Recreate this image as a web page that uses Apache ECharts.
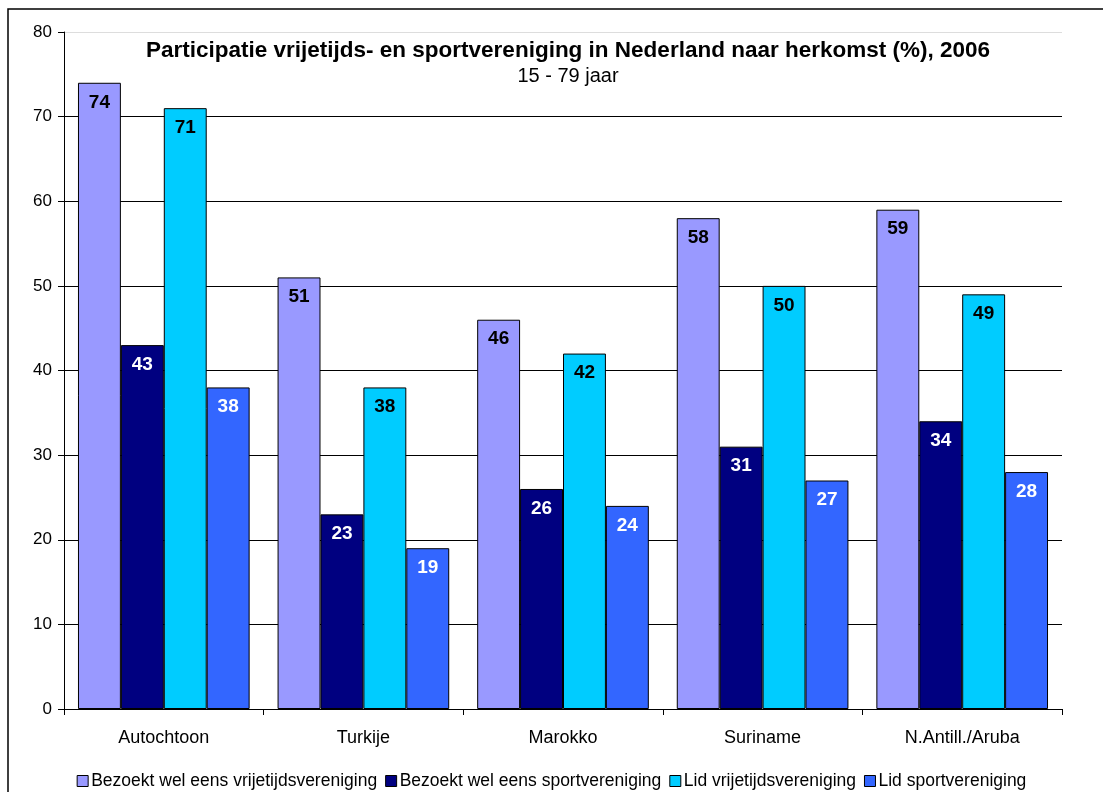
<!DOCTYPE html>
<html>
<head>
<meta charset="utf-8">
<script src="https://cdn.jsdelivr.net/npm/echarts@6/dist/echarts.min.js"></script>
<style>
  html, body { margin: 0; padding: 0; background: #fff; }
  #chart { width: 1103px; height: 792px; }
</style>
</head>
<body>
<div id="chart"></div>
<script>
var categories = ['Autochtoon', 'Turkije', 'Marokko', 'Suriname', 'N.Antill./Aruba']
var seriesNames = [
  'Bezoekt wel eens vrijetijdsvereniging',
  'Bezoekt wel eens sportvereniging',
  'Lid vrijetijdsvereniging',
  'Lid sportvereniging'
]
var bezoektVrijetijd = [74, 51, 46, 58, 59]
var bezoektSport = [43, 23, 26, 31, 34]
var lidVrijetijd = [71, 38, 42, 50, 49]
var lidSport = [38, 19, 24, 27, 28]

var colors = ['#9999FF', '#000080', '#00CCFF', '#3366FF']
var labelColors = ['#000', '#fff', '#000', '#fff']
var allData = [bezoektVrijetijd, bezoektSport, lidVrijetijd, lidSport]

var font = 'Liberation Sans, Arial, sans-serif'

var chart = echarts.init(document.getElementById('chart'), null, { renderer: 'canvas' })

var series = allData.map(function(d, i) {
  return {
    type: 'bar',
    name: seriesNames[i],
    data: d,
    barGap: '0%',
    barCategoryGap: '14%',
    itemStyle: { color: colors[i], borderColor: '#000', borderWidth: 1 },
    label: {
      show: true,
      position: 'insideTop',
      distance: 10,
      color: labelColors[i],
      fontFamily: font,
      fontWeight: 'bold',
      fontSize: 19
    }
  }
})

var option = {
  animation: false,
  color: colors,
  title: {
    text: 'Participatie vrijetijds- en sportvereniging in Nederland naar herkomst (%), 2006',
    subtext: '15 - 79 jaar',
    left: 563,
    textAlign: 'center',
    top: 34,
    itemGap: 4,
    textStyle: { fontFamily: font, fontWeight: 'bold', fontSize: 22.5, color: '#000' },
    subtextStyle: { fontFamily: font, fontSize: 20, color: '#000' }
  },
  legend: {
    top: 767,
    left: 'center',
    itemWidth: 11,
    itemHeight: 11,
    itemGap: 8,
    icon: 'rect',
    textStyle: { fontFamily: font, fontSize: 17.5, color: '#000', padding: [0, 0, 0, -2] },
    itemStyle: { borderColor: '#000', borderWidth: 1 },
    data: seriesNames
  },
  grid: { left: 64, right: 41, top: 32, bottom: 83 },
  xAxis: {
    type: 'category',
    data: categories,
    axisLine: { lineStyle: { color: '#000' } },
    axisTick: { show: true, length: 6, lineStyle: { color: '#000' } },
    axisLabel: { fontFamily: font, fontSize: 18, color: '#000', margin: 20 }
  },
  yAxis: {
    type: 'value',
    min: 0,
    max: 80,
    interval: 10,
    axisLine: { show: true, lineStyle: { color: '#000' } },
    axisTick: { show: true, length: 6, lineStyle: { color: '#000' } },
    axisLabel: { fontFamily: font, fontSize: 17, color: '#000', margin: 12 },
    splitLine: {
      lineStyle: {
        color: ['#000', '#000', '#000', '#000', '#000', '#000', '#000', '#000', '#ddd']
      }
    }
  },
  graphic: [{
    type: 'rect',
    shape: { x: 8, y: 9, width: 1200, height: 900 },
    style: { fill: 'none', stroke: '#000', lineWidth: 1.5 },
    silent: true
  }],
  series: series
}

chart.setOption(option)
</script>
</body>
</html>
